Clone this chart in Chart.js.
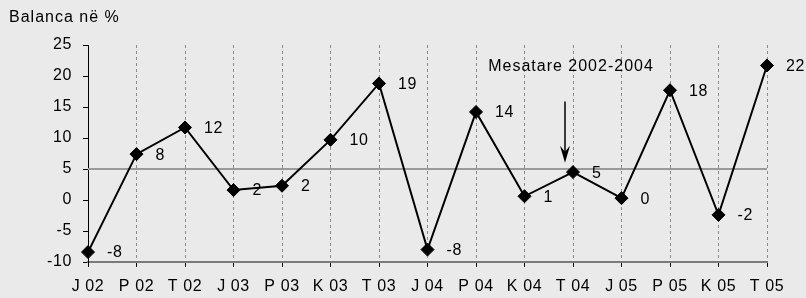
<!DOCTYPE html>
<html>
<head>
<meta charset="utf-8">
<script src="https://cdn.jsdelivr.net/npm/chart.js@4"></script>
<style>
  html, body { margin: 0; padding: 0; background: #eaeaea; }
  #wrap { width: 806px; height: 298px; }
</style>
</head>
<body>
<div id="wrap"><canvas id="balanceChart" width="806" height="298"></canvas></div>
<script>
const categories = ['J 02', 'P 02', 'T 02', 'J 03', 'P 03', 'K 03', 'T 03', 'J 04', 'P 04', 'K 04', 'T 04', 'J 05', 'P 05', 'K 05', 'T 05'];
const balance = [-8.4, 7.4, 11.7, 1.6, 2.3, 9.7, 18.8, -8.0, 14.2, 0.6, 4.5, 0.3, 17.7, -2.4, 21.7];
const valueLabels = ['-8', '8', '12', '2', '2', '10', '19', '-8', '14', '1', '5', '0', '18', '-2', '22'];
const yTicks = [-10, -5, 0, 5, 10, 15, 20, 25];
const average = 5;
const averageLabel = 'Mesatare 2002-2004';
const averageIndex = 10; // arrow points at T 04
const title = 'Balanca në %';

const FONT = "'Liberation Sans', Arial, sans-serif";
const SIZE = 16;

const extras = {
  id: 'extras',
  beforeDraw(chart) {
    const ctx = chart.ctx;
    ctx.save();
    ctx.fillStyle = '#eaeaea';
    ctx.fillRect(0, 0, chart.width, chart.height);
    ctx.restore();
    ctx.letterSpacing = '0.6px'; // the original text is set a little loose
  },
  beforeDatasetsDraw(chart) {
    const { ctx, chartArea, scales: { y } } = chart;
    const yy = y.getPixelForValue(average);
    ctx.save();
    ctx.strokeStyle = '#9a9a9a';
    ctx.lineWidth = 2;
    ctx.beginPath();
    ctx.moveTo(chartArea.left, yy);
    ctx.lineTo(chartArea.right, yy);
    ctx.stroke();
    ctx.restore();
  },
  afterDatasetsDraw(chart) {
    const { ctx, scales: { x, y } } = chart;
    const meta = chart.getDatasetMeta(0);
    ctx.save();
    ctx.fillStyle = '#000';
    ctx.font = SIZE + 'px ' + FONT;
    ctx.textBaseline = 'middle';
    ctx.textAlign = 'left';
    meta.data.forEach((pt, i) => {
      ctx.fillText(valueLabels[i], pt.x + 19, pt.y + 1);
    });

    // title
    ctx.letterSpacing = '1px';
    ctx.fillText(title, 9, 18);

    // average annotation and arrow
    const ax = x.getPixelForValue(averageIndex) - 8;
    ctx.textAlign = 'center';
    ctx.fillText(averageLabel, ax + 6, y.getPixelForValue(21.5));
    const top = y.getPixelForValue(15.9);
    const tip = y.getPixelForValue(6.0);
    ctx.strokeStyle = '#000';
    ctx.lineWidth = 1.5;
    ctx.beginPath();
    ctx.moveTo(ax, top);
    ctx.lineTo(ax, tip - 6);
    ctx.stroke();
    ctx.beginPath();
    ctx.moveTo(ax, tip);
    ctx.lineTo(ax - 5, tip - 17);
    ctx.lineTo(ax, tip - 11);
    ctx.lineTo(ax + 5, tip - 17);
    ctx.closePath();
    ctx.fill();
    ctx.restore();
  }
};

new Chart(document.getElementById('balanceChart'), {
  type: 'line',
  data: {
    labels: categories,
    datasets: [{
      data: balance,
      borderColor: '#000',
      borderWidth: 2,
      pointStyle: 'rectRot',
      pointRadius: 6.5,
      pointBackgroundColor: '#000',
      pointBorderColor: '#000',
      pointBorderWidth: 1,
      tension: 0
    }]
  },
  options: {
    responsive: false,
    animation: false,
    events: [],
    layout: { padding: { top: 45, right: 39, left: 0, bottom: 0 } },
    plugins: { legend: { display: false }, tooltip: { enabled: false } },
    scales: {
      x: {
        offset: false,
        afterFit: s => { s.height = 36; },
        grid: {
          color: '#8a8a8a',
          lineWidth: 1,
          tickColor: '#000',
          tickLength: 5,
          drawTicks: true
        },
        border: { color: '#7a7a7a', width: 2, dash: [3, 3] },
        ticks: { color: '#000', font: { family: FONT, size: SIZE }, padding: 10, maxRotation: 0, autoSkip: false }
      },
      y: {
        min: -10,
        max: 25,
        afterFit: s => { s.width = 88; },
        afterBuildTicks: s => { s.ticks = yTicks.map(v => ({ value: v })); },
        grid: { drawOnChartArea: false, tickColor: '#000', tickLength: 5 },
        border: { color: '#000', width: 1 },
        ticks: { color: '#000', font: { family: FONT, size: SIZE }, padding: 11 }
      }
    }
  },
  plugins: [extras]
});
</script>
</body>
</html>
